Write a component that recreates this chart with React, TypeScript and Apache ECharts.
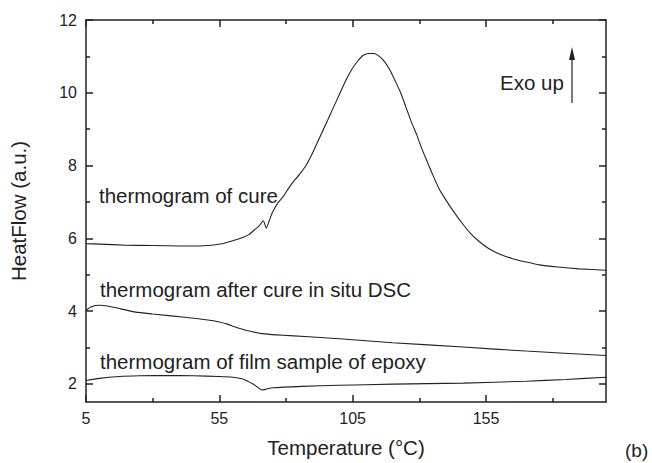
import React, { useEffect, useRef } from "react";
import * as echarts from "echarts";

// ---- data ----
const cureX = [5, 10, 20, 30, 40, 47, 52, 56, 60, 64, 66, 68, 70, 71.5, 72.6, 73.8, 75, 77, 79, 81, 83, 85, 87.5, 90, 92.5, 95, 97.5, 100, 102.5, 105, 107, 109, 111, 113, 115, 117, 119, 121, 123, 125, 127, 129, 131, 133, 135, 137.5, 140, 143, 146, 149, 152, 156, 160, 165, 170, 175, 182, 190, 200];
const cureY = [5.85, 5.84, 5.81, 5.8, 5.79, 5.79, 5.81, 5.85, 5.93, 6.03, 6.1, 6.22, 6.35, 6.48, 6.28, 6.5, 6.72, 6.98, 7.15, 7.38, 7.58, 7.75, 8.0, 8.35, 8.75, 9.15, 9.55, 9.95, 10.35, 10.68, 10.88, 11.03, 11.08, 11.08, 11.0, 10.85, 10.62, 10.32, 10.0, 9.6, 9.2, 8.85, 8.45, 8.1, 7.75, 7.35, 7.05, 6.72, 6.42, 6.15, 5.94, 5.72, 5.57, 5.44, 5.35, 5.27, 5.21, 5.16, 5.12];

const afterX = [5, 7, 10, 13, 18, 23.7, 30, 42, 50, 55, 58, 61, 65, 71, 80, 100, 120, 146.5, 170, 200];
const afterY = [4.02, 4.12, 4.16, 4.14, 4.06, 3.97, 3.92, 3.83, 3.76, 3.7, 3.64, 3.56, 3.47, 3.38, 3.33, 3.24, 3.13, 3.01, 2.9, 2.78];

const filmX = [5, 10, 17.5, 25, 36, 45, 55, 60, 63.5, 65.5, 67.5, 69.5, 71, 72.5, 75, 86, 100, 120, 146.5, 170, 185, 200];
const filmY = [2.09, 2.15, 2.2, 2.22, 2.23, 2.22, 2.2, 2.18, 2.14, 2.08, 2.0, 1.9, 1.83, 1.85, 1.89, 1.93, 1.96, 1.99, 2.02, 2.07, 2.12, 2.18];

const xMajor = [5, 55, 105, 155];
const xMinor = [30, 80, 130, 180];
const yMajor = [2, 4, 6, 8, 10, 12];
const yMinor = [3, 5, 7, 9, 11];

const labels = {
  cure: "thermogram of cure",
  after: "thermogram after cure in situ DSC",
  film: "thermogram of film sample of epoxy",
  exo: "Exo up",
  panel: "(b)",
};

const FONT = "'Liberation Sans', Arial, Helvetica, sans-serif";
const INK = "#222";
const ANN = 20.5;

function zip(xs: number[], ys: number[]) {
  return xs.map((x, i) => [x, ys[i]]);
}

function xAxisDef(pos: "bottom" | "top", ticks: number[], len: number, main: boolean) {
  return {
    type: "value",
    position: pos,
    min: 5,
    max: 200,
    splitLine: { show: false },
    axisLine: { show: main, onZero: false, lineStyle: { color: INK, width: 1.5 } },
    axisTick: { show: true, inside: true, length: len, customValues: ticks, lineStyle: { color: INK, width: 1.5 } },
    axisLabel: {
      show: main && pos === "bottom",
      customValues: ticks,
      fontSize: 16,
      fontFamily: FONT,
      color: INK,
      margin: 8,
    },
    ...(main && pos === "bottom"
      ? {
          name: "Temperature (°C)",
          nameLocation: "middle",
          nameGap: 35,
          nameTextStyle: { fontSize: ANN, fontFamily: FONT, color: INK },
        }
      : {}),
  };
}

function yAxisDef(pos: "left" | "right", ticks: number[], len: number, main: boolean) {
  return {
    type: "value",
    position: pos,
    min: 1.5,
    max: 12,
    splitLine: { show: false },
    axisLine: { show: main, onZero: false, lineStyle: { color: INK, width: 1.5 } },
    axisTick: { show: true, inside: true, length: len, customValues: ticks, lineStyle: { color: INK, width: 1.5 } },
    axisLabel: {
      show: main && pos === "left",
      customValues: ticks,
      fontSize: 16,
      fontFamily: FONT,
      color: INK,
      margin: 9,
    },
    ...(main && pos === "left"
      ? {
          name: "HeatFlow (a.u.)",
          nameLocation: "middle",
          nameGap: 57,
          nameRotate: 90,
          nameTextStyle: { fontSize: ANN, fontFamily: FONT, color: INK },
        }
      : {}),
  };
}

function lineSeries(name: string, xs: number[], ys: number[]) {
  return {
    name,
    type: "line",
    xAxisIndex: 0,
    yAxisIndex: 0,
    data: zip(xs, ys),
    showSymbol: false,
    symbol: "none",
    smooth: 0.2,
    lineStyle: { color: INK, width: 1.1 },
  };
}

function txt(text: string, x: number, y: number, size = ANN, va = "middle") {
  return {
    type: "text",
    x,
    y,
    style: { text, fontSize: size, fontFamily: FONT, fill: INK, align: "left", verticalAlign: va },
  };
}

export default function App() {
  const ref = useRef<HTMLDivElement>(null);
  useEffect(() => {
    if (!ref.current) return;
    const chart = echarts.init(ref.current, null, { renderer: "svg" });
    chart.setOption({
      animation: false,
      backgroundColor: "#fff",
      grid: { left: 85, top: 20, right: 46, bottom: 61, containLabel: false },
      xAxis: [
        xAxisDef("bottom", xMajor, 7, true),
        xAxisDef("bottom", xMinor, 4, false),
        xAxisDef("top", xMajor, 7, true),
        xAxisDef("top", xMinor, 4, false),
      ],
      yAxis: [
        yAxisDef("left", yMajor, 7, true),
        yAxisDef("left", yMinor, 4, false),
        yAxisDef("right", yMajor, 7, true),
        yAxisDef("right", yMinor, 4, false),
      ],
      series: [
        lineSeries("cure", cureX, cureY),
        lineSeries("after", afterX, afterY),
        lineSeries("film", filmX, filmY),
      ],
      graphic: [
        txt(labels.cure, 99, 195),
        txt(labels.after, 100, 289),
        txt(labels.film, 100, 361),
        txt(labels.exo, 500, 82),
        txt(labels.panel, 625, 441, 19, "top"),
        {
          type: "line",
          shape: { x1: 572, y1: 103, x2: 572, y2: 56 },
          style: { stroke: INK, lineWidth: 1.2 },
        },
        {
          type: "polygon",
          shape: { points: [[572, 47], [569, 60], [575, 60]] },
          style: { fill: INK },
        },
      ],
    });
    return () => chart.dispose();
  }, []);
  return (
    <div
      ref={ref}
      style={{ position: "fixed", left: 0, top: 0, width: 652, height: 463, background: "#fff" }}
    />
  );
}
